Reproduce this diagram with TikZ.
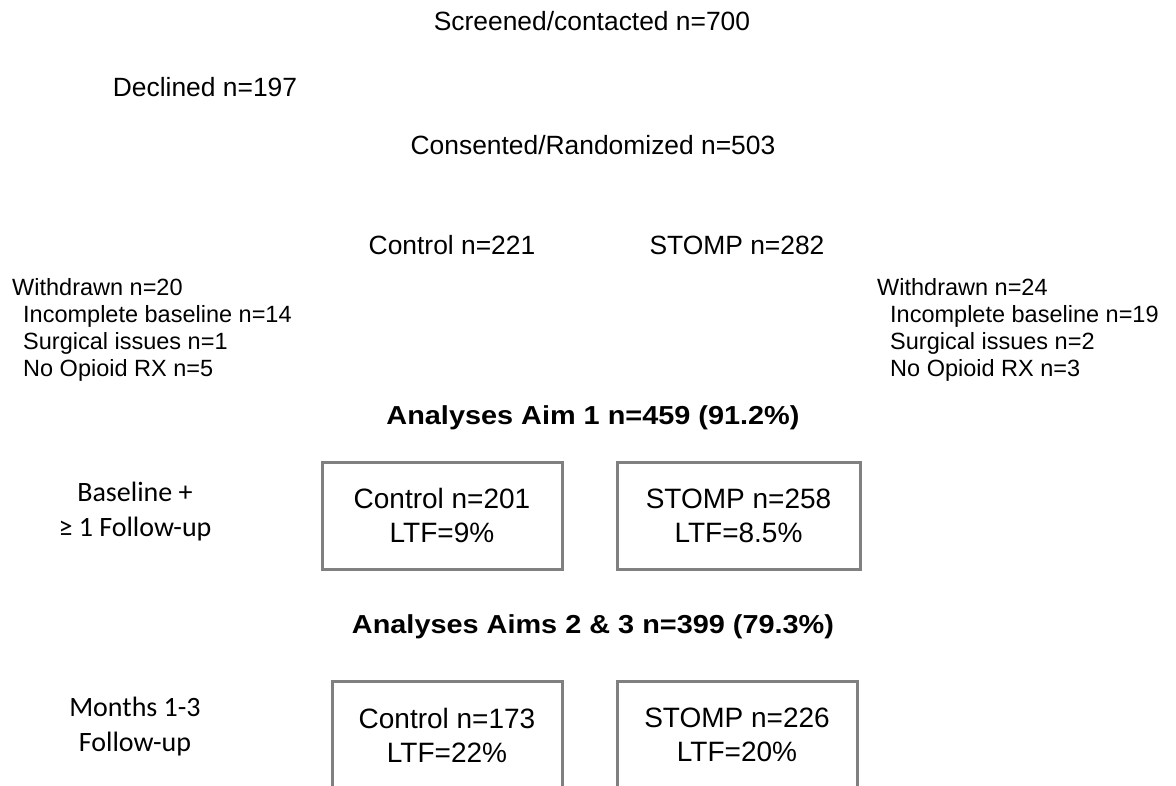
\documentclass[tikz,border=0pt]{standalone}
\usepackage{fontspec}
\setmainfont{Liberation Sans}
\newfontfamily\calib{Carlito}
\newfontfamily\headfont{Liberation Sans}[FakeStretch=1.11]
\definecolor{boxgray}{RGB}{128,128,128}
\begin{document}
\begin{tikzpicture}[x=1pt,y=-1pt,
  txt/.style={inner sep=0pt, anchor=base, font=\fontsize{26.4}{30}\selectfont},
  wd/.style={inner sep=0pt, anchor=north west, align=left, font=\fontsize{23.5}{27}\selectfont},
  head/.style={inner sep=0pt, anchor=base, font=\headfont\bfseries\fontsize{26}{30}\selectfont},
  side/.style={inner sep=0pt, align=center, font=\calib\fontsize{28}{35}\selectfont},
  res/.style={draw=boxgray, line width=3pt, align=center, inner sep=0pt, font=\fontsize{28}{34}\selectfont}]
\path[use as bounding box] (0,0) rectangle (1176,785);
\clip (0,0) rectangle (1176,785);
\node[txt] (screen) at (592,30) {Screened/contacted n=700};
\node[txt] (decl) at (205,96) {Declined n=197};
\node[txt] (cons) at (593,154.5) {Consented/Randomized n=503};
\node[txt] (ctrl) at (452,254.5) {Control n=221};
\node[txt] (stomp) at (737,254.5) {STOMP n=282};
\node[wd] (wdl) at (12,278) {Withdrawn n=20\\\hspace*{11pt}Incomplete baseline n=14\\\hspace*{11pt}Surgical issues n=1\\\hspace*{11pt}No Opioid RX n=5};
\node[wd] (wdr) at (877,278) {Withdrawn n=24\\\hspace*{13pt}Incomplete baseline n=19\\\hspace*{13pt}Surgical issues n=2\\\hspace*{13pt}No Opioid RX n=3};
\node[head] (aim1) at (593,424) {Analyses Aim 1 n=459 (91.2\%)};
\node[head] (aim23) at (593,633) {Analyses Aims 2 \& 3 n=399 (79.3\%)};
\node[side] (lab1) at (135,511.5) {Baseline +\\≥ 1 Follow-up};
\node[side] (lab2) at (135,726.5) {Months 1-3\\Follow-up};
\node[res, minimum width=240pt, minimum height=107pt] (cb1) at (442,515.5) {Control n=201\\LTF=9\%};
\node[res, minimum width=243pt, minimum height=107pt] (sb1) at (738.5,515.5) {STOMP n=258\\LTF=8.5\%};
\node[res, minimum width=230pt, minimum height=108pt] (cb2) at (447,735) {Control n=173\\LTF=22\%};
\node[res, minimum width=240pt, minimum height=108pt] (sb2) at (737,735) {STOMP n=226\\LTF=20\%};
\end{tikzpicture}
\end{document}
